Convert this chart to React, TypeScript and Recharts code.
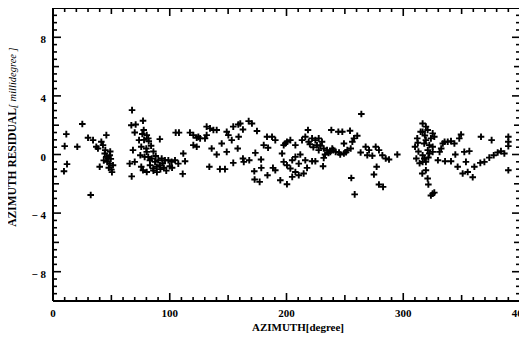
import * as React from "react";
import { ScatterChart, Scatter, XAxis, YAxis, Label } from "recharts";

// azimuth [degree] / residual [millidegree]
const azimuth = [
  11.4, 10, 12, 9.4, 25.1, 20.8, 30, 34.3, 32.3, 45.7, 40, 37.1, 41.4, 42.8, 44.3, 47.1,
  48.6, 50, 45.6, 43.5, 51.4, 48.6, 38.5, 46.5, 49.5, 50.5, 47.8, 44.8, 49,
  67.7, 67.1, 70.8, 77.1, 70, 77.7, 68.5, 73.7, 75.6, 79.9, 65.7, 70, 67.4, 75.6, 77.1,
  78.5, 74.8,
  80.3, 81.6, 80.3, 81.6, 84.5, 87.4, 90.2, 93.1, 95.9, 98.8, 101.6, 104.5, 107.3, 83.1,
  85.9, 88.8, 80.3, 91.5, 91.5, 111.6, 113.1, 111.1, 105.1, 107.9, 117.3, 120.2, 123.1,
  126, 124.5, 120.2, 123.1, 131.6, 134.5, 137.4, 140.2, 131.6, 130.2, 135.9, 140.2, 133.9,
  143, 147.3, 144.5, 148.8, 150.2, 153.1, 148.8, 154.4, 158.7, 158.2, 154.4,
  86, 89, 92, 95, 97, 100, 83, 86, 84, 82, 88, 94, 102, 78, 76.5,
  160.4, 167.6, 170.4, 162.7, 174.7, 159, 183.3, 187.6, 190.4, 180.5, 184.2, 173.3, 162.7,
  163.4, 168.1, 178.2, 172.4, 178.4, 183.7, 172.7, 177, 188.4, 190.4, 194.7, 200.4, 196.2,
  197.6, 200.4, 203.3, 199, 207.6, 197.6, 200.4, 203.3, 204.9, 207.6, 211.8, 210.5, 207.6,
  210.5, 204.9, 214.7, 217.6, 218.4, 216.1, 213.3, 219, 221.9, 224.7, 227.6, 230.4, 226.1,
  227.6, 231.9, 234.7, 237.5, 216.1, 221.9, 224.7, 231.9, 231.3, 238.4,
  264.1, 244.4, 247.8, 254.4, 260.6, 257.8, 256.4, 249.2, 255, 239.2, 242.1, 245, 249.2,
  252.1, 263.5, 267.8, 270.7, 276.4, 279.2, 269.2, 273.5, 282.1, 285, 287.8, 294.9, 277.2,
  274.9, 255.5, 258.4, 279.2, 282.7,
  220, 223, 229, 233, 236, 240, 246, 251,
  314.9, 312, 310.1, 311.2, 316.3,
  316.6, 319.4, 320.9, 316.6, 325.2, 326.6, 323.7, 319.4, 318, 322.3, 325.2, 316.6, 318,
  319.4, 322.3, 325.2, 329.7, 331.1, 332.5, 333.9, 335.4, 338.1, 340.9, 343.8, 348, 349.5,
  335.8, 340.9, 344.6, 346.6, 353.7, 352.3, 356.6, 350.9, 355.2, 359.5, 360.9, 366, 369.5,
  373.7, 377.5, 380.9, 383.7, 386.6, 366.6, 375.7, 390, 390, 390, 390, 319.4, 320.9, 321.5,
  325.2, 326.6, 323.7, 316.6,
  313, 314, 312.5, 321, 318.5, 321.5,
];

const residual = [
  1.39, 0.57, -0.66, -1.14, 2.08, 0.53, 1.14, 0.98, -2.76, 1.32, -0.84, 0.53, 0.87, 0.64, 0.07, -0.27,
  -0.62, -1.03, -0.16, -0.4, -0.73, -0.05, 0.41, -0.5, -0.3, -1.2, -0.9, 0.3, 0.2,
  3.03, 2.0, 2.05, 2.3, 1.5, 1.67, 0.3, 0.98, 0.53, 0.41, -0.62, -0.5, -1.49, -0.84, -1.07,
  -0.16, -0.05,
  1.32, 1.1, 0.18, -0.16, -0.27, -0.5, -0.39, -0.27, -0.39, -0.39, -0.5, -0.39, -0.62, -0.73,
  -0.96, -0.84, -1.19, -0.73, 1.05, 0.07, -0.46, -1.32, 1.49, 1.49, 1.49, 1.32, 1.14,
  1.1, 1.2, 0.64, 0.53, 1.9, 1.78, 1.67, 1.67, 1.32, 1.1, 0.41, 0.0, -0.84,
  -1.0, -1.0, 0.75, 1.55, 1.32, 0.98, 0.18, 1.9, 2.05, 0.41, -0.57,
  -1.1, -1.2, -1.0, -0.9, -1.1, -0.8, -0.4, 0.2, 0.6, 0.9, -0.1, -0.6, -0.9, 1.0, 1.4,
  2.12, 2.28, 2.12, 1.71, 1.6, 1.21, 1.21, 1.21, 0.98, 0.64, 0.46, 0.11, -0.27,
  -0.5, -0.39, -0.34, -1.14, -0.91, -1.42, -1.71, -1.87, -0.91, -1.07, -1.76, -2.03, 0.07,
  0.64, 0.87, 0.98, 0.75, 0.64, -0.5, -0.73, -0.96, -0.39, -0.16, 0.0, -0.62, -1.19,
  -1.42, -1.53, -1.3, -0.91, 1.67, 1.21, 0.98, 0.87, 1.1, 0.98, 1.1, 0.87, 0.64,
  0.3, 0.41, 0.3, 0.18, -0.39, -0.46, -0.46, -0.23, -0.8, 1.67,
  2.76, 1.55, 1.55, 1.62, 1.28, 1.1, 0.87, 0.75, 0.41, 0.41, 0.18, 0.14, 0.07,
  0.3, 0.14, 0.53, 0.3, 0.53, 0.3, -0.05, -0.09, -0.05, -0.27, -0.34, 0.0, -0.84,
  -1.37, -1.6, -2.72, -2.05, -2.21,
  0.7, 0.5, 0.6, 0.0, 0.1, 0.3, 0.0, 0.15,
  1.55, 1.1, 0.53, -0.27, -1.3,
  2.12, 1.9, 1.67, 1.55, 1.44, 1.21, 1.1, 0.98, 0.75, 0.64, 0.53, -0.05, -0.27,
  -0.5, 0.07, 0.18, -0.39, 0.18, 0.41, 0.75, 0.87, 0.87, 0.91, 0.75, 1.1, 1.37,
  -0.46, -0.46, 0.0, -0.84, -0.5, 0.18, 0.23, -1.3, -1.19, -1.55, -0.84, -0.57, -0.5,
  -0.21, -0.05, 0.14, 0.23, 0.07, 1.21, 0.98, 1.21, 0.87, 0.57, -1.07, -1.07, -1.64, -2.05,
  -2.67, -2.6, -2.8, -0.5,
  0.2, -0.6, 0.8, 0.3, 1.3, -0.2,
];

// tick labels and tick positions
const xLabels = [0, 100, 200, 300, 400];
const xTicks = Array.from({ length: 41 }, (_, i) => i * 10);
const yLabels = [-8, -4, 0, 4, 8];
const yTicks = Array.from({ length: 41 }, (_, i) => -10 + i * 0.5);

const X0 = 0, X1 = 400, Y0 = -10, Y1 = 10;

const points = azimuth.map((az, i) => ({ az, res: residual[i] }));

// frame tick marks, placed through the same scales as the data
const frameTicks = [
  ...xTicks.map((v) => ({ az: v, res: Y0, side: "b", len: v % 100 === 0 ? 8 : v % 50 === 0 ? 6 : 4 })),
  ...xTicks.map((v) => ({ az: v, res: Y1, side: "t", len: v % 100 === 0 ? 8 : v % 50 === 0 ? 6 : 4 })),
  ...yTicks.map((v) => ({ az: X0, res: v, side: "l", len: v % 4 === 0 ? 8 : v % 2 === 0 ? 6 : 4 })),
  ...yTicks.map((v) => ({ az: X1, res: v, side: "r", len: v % 4 === 0 ? 8 : v % 2 === 0 ? 6 : 4 })),
];

const FONT = "'Liberation Serif', 'DejaVu Serif', serif";
const frame = { stroke: "#000", strokeWidth: 2 };

function BottomLabel({ x, y, payload }: any) {
  return (
    <text x={x} y={Number(y) + 16} textAnchor="middle" fontFamily={FONT} fontWeight="bold" fontSize={11} fill="#000">
      {payload.value}
    </text>
  );
}

function LeftLabel({ x, y, payload }: any) {
  const v = payload.value;
  return (
    <text x={Number(x) - 7} y={Number(y) + 6} textAnchor="end" fontFamily={FONT} fontWeight="bold" fontSize={11} fill="#000">
      {v < 0 ? "\u2212 " + Math.abs(v) : v}
    </text>
  );
}

function Plus({ cx, cy }: any) {
  return (
    <path
      d={`M${cx - 3.3},${cy}H${cx + 3.3}M${cx},${cy - 3.3}V${cy + 3.3}`}
      stroke="#000"
      strokeWidth={1.9}
      fill="none"
    />
  );
}

function FrameTick(props: any) {
  const { cx, cy } = props;
  const p = props.payload || props;
  const n = p.len;
  const d =
    p.side === "b" ? `M${cx},${cy}V${cy - n}` :
    p.side === "t" ? `M${cx},${cy}V${cy + n}` :
    p.side === "l" ? `M${cx},${cy}H${cx + n}` :
    `M${cx},${cy}H${cx - n}`;
  return <path d={d} stroke="#000" strokeWidth={1.6} fill="none" />;
}

export default function App() {
  return (
    <div style={{ margin: "-8px 0 0 -8px", width: 527, height: 344, background: "#fff" }}>
      <ScatterChart width={527} height={344} margin={{ top: 0, right: 0, bottom: 0, left: 0 }}>
        <XAxis
          xAxisId="main"
          dataKey="az"
          type="number"
          domain={[X0, X1]}
          ticks={xLabels}
          interval={0}
          height={43}
          tickSize={0}
          tickMargin={0}
          tickLine={false}
          axisLine={frame}
          tick={BottomLabel}
        >
          <Label
            content={() => (
              <text x={298} y={331} textAnchor="middle" fontFamily={FONT} fontWeight="bold" fontSize={11} fill="#000">
                AZIMUTH[degree]
              </text>
            )}
          />
        </XAxis>
        <XAxis xAxisId="top" orientation="top" type="number" domain={[X0, X1]} height={8}
          tick={false} tickLine={false} axisLine={frame} />
        <YAxis
          yAxisId="main"
          dataKey="res"
          type="number"
          domain={[Y0, Y1]}
          ticks={yLabels}
          interval={0}
          width={53}
          tickSize={0}
          tickMargin={0}
          tickLine={false}
          axisLine={frame}
          tick={LeftLabel}
        >
          <Label
            content={() => (
              <text
                transform="translate(16,137) rotate(-90)"
                textAnchor="middle"
                fontFamily={FONT}
                fontSize={11.5}
                fill="#000"
              >
                <tspan fontWeight="bold">AZIMUTH  RESIDUAL</tspan>
                <tspan fontStyle="italic" fontSize={10.5}>{"[ millidegree ]"}</tspan>
              </text>
            )}
          />
        </YAxis>
        <YAxis yAxisId="right" orientation="right" type="number" domain={[Y0, Y1]} width={7}
          tick={false} tickLine={false} axisLine={frame} />

        <Scatter
          data={frameTicks}
          xAxisId="main"
          yAxisId="main"
          shape={FrameTick}
          isAnimationActive={false}
        />
        <Scatter
          data={points}
          xAxisId="main"
          yAxisId="main"
          shape={Plus}
          isAnimationActive={false}
        />
      </ScatterChart>
    </div>
  );
}
